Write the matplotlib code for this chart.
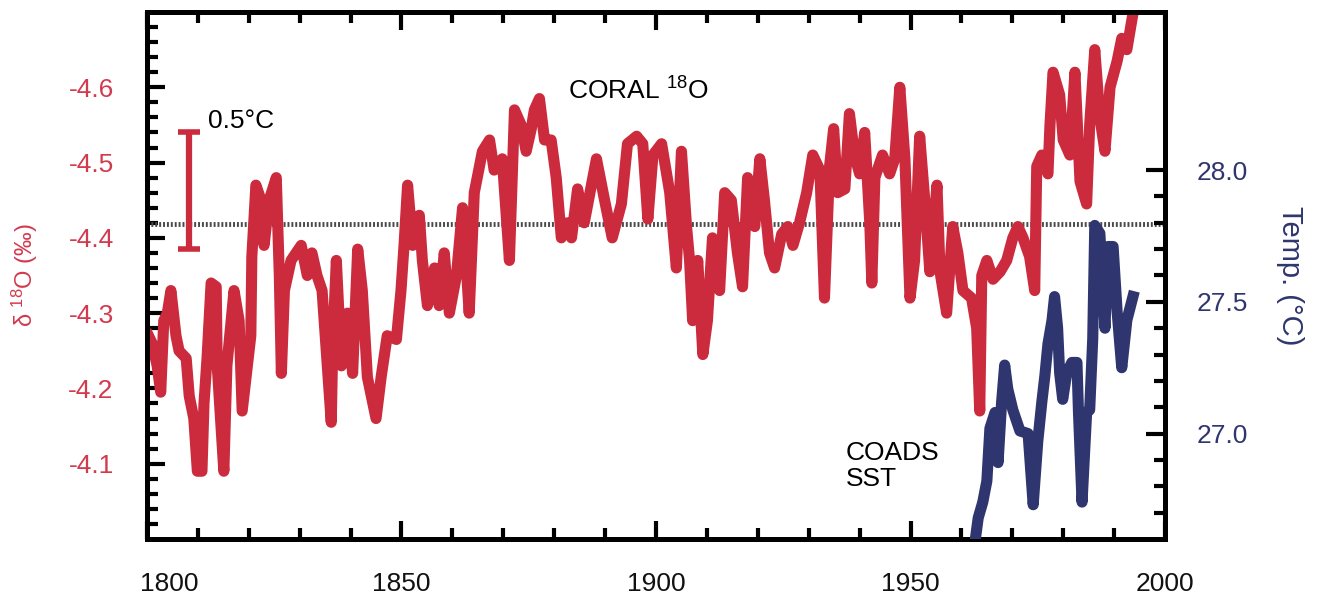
import numpy as np
import matplotlib
matplotlib.use("Agg")
import matplotlib.pyplot as plt
from matplotlib.ticker import FixedLocator
from matplotlib.transforms import ScaledTranslation

plt.rcParams['font.family'] = ['Liberation Sans', 'DejaVu Sans']
plt.rcParams['mathtext.fontset'] = 'custom'
plt.rcParams['mathtext.rm'] = 'Liberation Sans'
plt.rcParams['axes.unicode_minus'] = False

# coral d18O record (per mil)
coral_years = [1800.3, 1801.0, 1802.0, 1802.7, 1803.3, 1804.0, 1804.7, 1805.7, 1806.3, 1807.7,
               1808.3, 1809.2, 1809.9, 1810.8, 1811.2, 1811.8, 1812.6, 1813.6, 1813.8, 1815.1,
               1815.7, 1817.1, 1818.1, 1818.7, 1820.4, 1820.6, 1821.4, 1822.4, 1823.0, 1824.0,
               1825.4, 1826.0, 1826.4, 1827.0, 1828.3, 1830.3, 1831.5, 1832.4, 1833.4, 1834.4,
               1836.2, 1836.5, 1837.2, 1838.2, 1839.4, 1840.4, 1841.4, 1842.3, 1843.3, 1845.0,
               1846.0, 1847.2, 1849.0, 1849.9, 1850.5, 1851.2, 1852.2, 1853.5, 1854.1, 1855.1,
               1856.5, 1857.4, 1858.4, 1859.4, 1860.8, 1862.0, 1863.3, 1864.3, 1865.9, 1867.3,
               1868.2, 1869.8, 1871.2, 1872.2, 1873.5, 1874.5, 1875.5, 1876.1, 1877.1, 1878.1,
               1879.4, 1880.4, 1881.4, 1882.6, 1883.4, 1884.6, 1885.9, 1888.3, 1889.9, 1891.4,
               1893.2, 1894.4, 1896.2, 1897.4, 1898.4, 1899.4, 1901.1, 1902.7, 1904.0, 1905.0,
               1906.0, 1906.6, 1907.2, 1908.2, 1909.2, 1910.1, 1911.1, 1912.5, 1913.5, 1914.8,
               1916.0, 1917.0, 1918.0, 1919.4, 1920.4, 1921.3, 1922.3, 1923.3, 1924.7, 1925.9,
               1926.9, 1928.2, 1929.6, 1930.8, 1932.2, 1933.1, 1934.1, 1934.9, 1935.7, 1937.1,
               1938.0, 1939.0, 1940.0, 1941.0, 1942.0, 1942.4, 1943.0, 1944.5, 1945.9, 1946.9,
               1947.9, 1948.9, 1949.9, 1950.8, 1951.8, 1952.8, 1953.8, 1955.2, 1955.8, 1957.1,
               1958.3, 1959.3, 1960.3, 1962.0, 1963.0, 1963.6, 1964.0, 1965.0, 1966.2, 1967.6,
               1968.9, 1970.1, 1971.1, 1972.1, 1973.4, 1974.4, 1974.8, 1975.8, 1977.0, 1977.4,
               1978.0, 1979.3, 1980.0, 1981.3, 1982.3, 1983.3, 1984.6, 1985.2, 1986.2, 1987.2,
               1988.2, 1989.2, 1990.6, 1991.5, 1992.5, 1993.5, 1994.3]
coral_d18o = [-4.27, -4.26, -4.23, -4.195, -4.29, -4.30, -4.33, -4.27, -4.25, -4.24,
              -4.19, -4.16, -4.09, -4.09, -4.18, -4.24, -4.34, -4.335, -4.23, -4.09,
              -4.23, -4.33, -4.29, -4.17, -4.27, -4.375, -4.47, -4.45, -4.39, -4.45,
              -4.48, -4.35, -4.22, -4.33, -4.37, -4.39, -4.35, -4.38, -4.35, -4.33,
              -4.155, -4.26, -4.37, -4.23, -4.30, -4.22, -4.385, -4.33, -4.215, -4.16,
              -4.215, -4.27, -4.265, -4.33, -4.39, -4.47, -4.39, -4.43, -4.37, -4.31,
              -4.36, -4.31, -4.38, -4.30, -4.35, -4.44, -4.30, -4.46, -4.515, -4.53,
              -4.49, -4.505, -4.37, -4.57, -4.55, -4.515, -4.545, -4.57, -4.585, -4.53,
              -4.53, -4.48, -4.40, -4.42, -4.40, -4.465, -4.42, -4.505, -4.45, -4.40,
              -4.445, -4.525, -4.535, -4.525, -4.425, -4.51, -4.525, -4.46, -4.36, -4.515,
              -4.415, -4.37, -4.29, -4.37, -4.245, -4.29, -4.40, -4.33, -4.46, -4.45,
              -4.38, -4.335, -4.48, -4.415, -4.505, -4.45, -4.38, -4.36, -4.405, -4.415,
              -4.39, -4.42, -4.46, -4.51, -4.49, -4.32, -4.495, -4.545, -4.46, -4.465,
              -4.565, -4.51, -4.485, -4.54, -4.42, -4.34, -4.48, -4.51, -4.485, -4.505,
              -4.60, -4.505, -4.32, -4.37, -4.535, -4.45, -4.355, -4.47, -4.355, -4.30,
              -4.415, -4.38, -4.33, -4.32, -4.28, -4.17, -4.35, -4.37, -4.345, -4.355,
              -4.37, -4.40, -4.415, -4.40, -4.375, -4.33, -4.495, -4.51, -4.485, -4.55,
              -4.62, -4.59, -4.53, -4.51, -4.62, -4.475, -4.445, -4.55, -4.65, -4.56,
              -4.515, -4.60, -4.635, -4.665, -4.65, -4.69, -4.72]

# COADS sea surface temperature (deg C)
sst_years = [1962.6, 1963.3, 1964.2, 1965.0, 1965.6, 1966.6, 1967.2, 1967.9, 1968.5, 1969.1,
             1970.1, 1971.5, 1973.1, 1974.1, 1975.0, 1975.8, 1976.4, 1977.0, 1977.8, 1978.3,
             1978.9, 1979.3, 1979.9, 1980.7, 1981.7, 1982.7, 1983.0, 1983.7, 1984.6, 1985.2,
             1985.8, 1986.2, 1987.2, 1988.2, 1988.8, 1989.8, 1990.6, 1991.5, 1992.5, 1993.7]
sst_temp = [26.58, 26.68, 26.74, 26.82, 27.02, 27.08, 26.89, 27.12, 27.26, 27.17,
            27.09, 27.01, 27.00, 26.73, 26.97, 27.12, 27.22, 27.34, 27.43, 27.52,
            27.40, 27.23, 27.13, 27.23, 27.27, 27.27, 27.08, 26.74, 27.08, 27.09,
            27.36, 27.79, 27.76, 27.40, 27.71, 27.71, 27.46, 27.25, 27.43, 27.52]

mean_d18o = -4.418
scale_year = 1808.3
scale_lo, scale_hi = -4.385, -4.54

red = '#cc2b3d'
red_txt = '#d23a4e'
navy = '#2f356e'

fig = plt.figure(figsize=(13.17, 6.0), dpi=100)
ax = fig.add_axes([0.1116, 0.1017, 0.7730, 0.8783])
ax2 = ax.twinx()

ax.axhline(mean_d18o, color='#4a4a4a', lw=3.5, ls=(0, (0.4, 0.4)), zorder=2)
ax.plot(coral_years, coral_d18o, color=red, lw=8, solid_joinstyle='round', zorder=3)
ax2.plot(sst_years, sst_temp, color=navy, lw=8, solid_joinstyle='round', zorder=3)

# scale bar
ax.plot([scale_year, scale_year], [scale_lo, scale_hi], color=red, lw=4.5, solid_capstyle='butt')
for yv in (scale_lo, scale_hi):
    ax.plot([scale_year - 2.2, scale_year + 2.2], [yv, yv], color=red, lw=4, solid_capstyle='butt')
ax.text(scale_year + 3.7, -4.555, '0.5°C', fontsize=19, va='center', ha='left')

ax.text(1882.7, -4.595, r'CORAL $\mathregular{^{18}}$O', fontsize=19, va='center', ha='left')
ax.text(1937.3, -4.097, 'COADS\nSST', fontsize=19, va='center', ha='left', linespacing=1.15)

ax.set_xlim(1800, 2000)
ax.set_ylim(-4.0, -4.7)
ax2.set_ylim(26.6, 28.6)
ax2.set_zorder(ax.get_zorder() + 1)
ax2.patch.set_visible(False)

ax.xaxis.set_major_locator(FixedLocator([1800, 1850, 1900, 1950, 2000]))
ax.xaxis.set_minor_locator(FixedLocator(np.arange(1810, 2000, 10)))
ax.yaxis.set_major_locator(FixedLocator([-4.6, -4.5, -4.4, -4.3, -4.2, -4.1]))
ax.yaxis.set_minor_locator(FixedLocator(np.arange(-4.68, -4.0, 0.02)))
ax.set_yticklabels(['-4.6', '-4.5', '-4.4', '-4.3', '-4.2', '-4.1'])
ax2.yaxis.set_major_locator(FixedLocator([27.0, 27.5, 28.0]))
ax2.yaxis.set_minor_locator(FixedLocator(np.arange(26.7, 28.0, 0.1)))

ax.tick_params(which='both', direction='in', top=True, right=False, width=3, color='black')
ax.tick_params(which='major', length=13, labelsize=19)
ax.tick_params(which='minor', length=8)
ax.tick_params(axis='x', pad=24, labelcolor='#111111')
ax.tick_params(axis='y', pad=24, labelcolor=red_txt)
ax2.tick_params(which='both', direction='in', width=3, color='black')
ax2.tick_params(which='major', length=14, labelsize=19, pad=23, labelcolor=navy)
ax2.tick_params(which='minor', length=8)

for a in (ax, ax2):
    for s in a.spines.values():
        s.set_linewidth(3.6)

ax.set_ylabel(r'δ $\mathregular{^{18}}$O (‰)', fontsize=17, color=red_txt, va='center')
ax.yaxis.set_label_coords(-0.12, 0.5)
ax2.set_ylabel('Temp. (°C)', fontsize=21, color=navy, rotation=270, va='center')
ax2.yaxis.set_label_coords(1.123, 0.5)

lbl = ax.xaxis.get_major_ticks()[0].label1
lbl.set_transform(lbl.get_transform() + ScaledTranslation(0.22, 0, fig.dpi_scale_trans))

fig.savefig('out.png', dpi=100)
